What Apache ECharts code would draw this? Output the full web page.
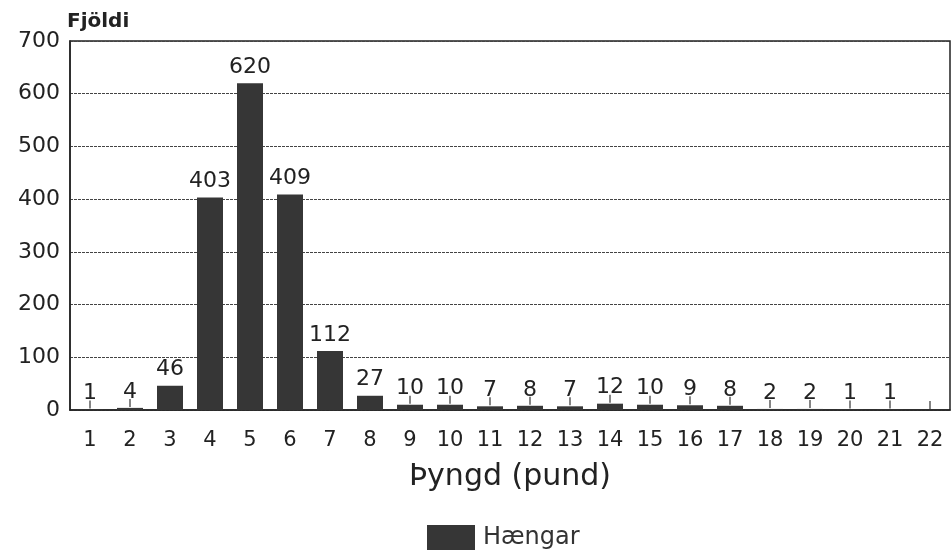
<!DOCTYPE html>
<html><head><meta charset="utf-8">
<script src="https://cdn.jsdelivr.net/npm/echarts@6/dist/echarts.min.js"></script>
<style>html,body{margin:0;padding:0;background:#fff}#c{width:952px;height:560px}</style>
</head><body><div id="c"></div>
<script>
const categories = ['1','2','3','4','5','6','7','8','9','10','11','12','13','14','15','16','17','18','19','20','21','22'];
const haengar = [1,4,46,403,620,409,112,27,10,10,7,8,7,12,10,9,8,2,2,1,1,0];
const yTicks = [0,100,200,300,400,500,600,700];
const seriesName = 'Hængar';
const xTitle = 'Þyngd (pund)';
const yTitle = 'Fjöldi';

const chart = echarts.init(document.getElementById('c'), null, {renderer:'canvas'});
const font = '"DejaVu Sans", Verdana, sans-serif';
chart.setOption({
  animation:false,
  backgroundColor:'#fff',
  textStyle:{fontFamily:font},
  grid:{left:70, right:2, top:41, bottom:150, show:true, borderColor:'#222', borderWidth:1.5},
  legend:{data:[{name:seriesName, icon:'rect'}], bottom:5, left:422, itemWidth:48, itemHeight:25, itemGap:10,
    textStyle:{fontSize:24, color:'#333', fontFamily:font, padding:[0,0,0,3]}},
  xAxis:{type:'category', data:categories,
    name:xTitle, nameLocation:'middle', nameGap:52,
    nameTextStyle:{fontSize:30, color:'#222', fontFamily:font},
    axisLine:{lineStyle:{color:'#222', width:1.5}},
    axisTick:{show:false},
    axisLabel:{fontSize:21, color:'#222', margin:20, fontFamily:font}},
  yAxis:{type:'value', min:yTicks[0], max:yTicks[yTicks.length-1], interval:100,
    name:yTitle, nameLocation:'end', nameGap:9,
    nameTextStyle:{fontSize:20, fontWeight:'bold', color:'#222', align:'left', padding:[0,0,0,-3], fontFamily:font},
    axisLine:{show:true, lineStyle:{color:'#222', width:1.5}},
    axisTick:{show:false},
    axisLabel:{fontSize:22, color:'#222', margin:10, fontFamily:font},
    splitLine:{show:true, lineStyle:{color:'#444', type:[3,1], width:1}}},
  series:[{name:seriesName, type:'bar', data:haengar, barWidth:26,
    itemStyle:{color:'#363636'},
    label:{show:true, position:'top', distance:5, fontSize:22, color:'#222', fontFamily:font,
      backgroundColor:'#fff', padding:[0,1],
      formatter:p=>p.value===0?'':String(p.value)}},
   {name:'ticks', type:'custom', data:haengar, silent:true, legendHoverLink:false, z:3,
    renderItem:(params, api)=>{
      const v = api.value(1);
      if (v >= 20) return null;
      const p = api.coord([api.value(0), v]);
      return {type:'line', shape:{x1:p[0], y1:p[1]-1, x2:p[0], y2:p[1]-9}, style:{stroke:'#333', lineWidth:1.2}};
    },
    encode:{x:0, y:1}}]
});
</script></body></html>
